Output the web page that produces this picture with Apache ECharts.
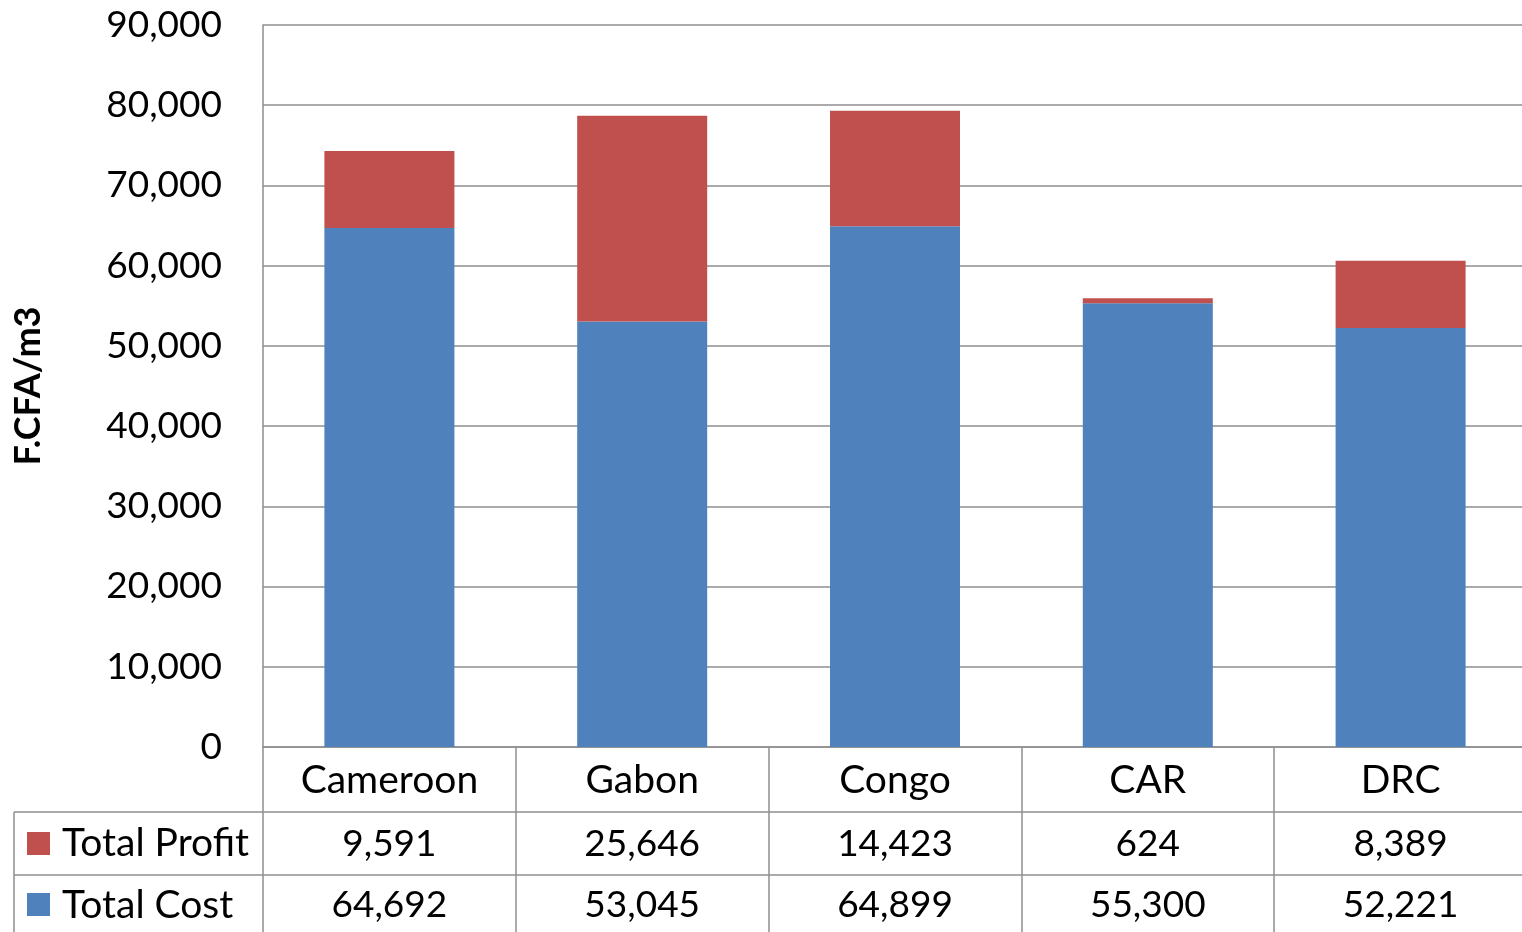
<!DOCTYPE html>
<html>
<head>
<meta charset="utf-8">
<script src="https://cdn.jsdelivr.net/npm/echarts@6/dist/echarts.min.js"></script>
<style>
html,body{margin:0;padding:0;background:#fff;}
#chart{width:1522px;height:932px;}
</style>
</head>
<body>
<div id="chart"></div>
<script>
const categories = ['Cameroon', 'Gabon', 'Congo', 'CAR', 'DRC'];
const totalCost = [64692, 53045, 64899, 55300, 52221];
const totalProfit = [9591, 25646, 14423, 624, 8389];
const seriesNames = ['Total Profit', 'Total Cost'];
const yTicks = { min: 0, max: 90000, interval: 10000 };
const yAxisName = 'F.CFA/m3';

const FONT = 'Lato';
const GRAY = '#8e8e8e';
const RED = '#C0504D';
const BLUE = '#4F81BD';
const fmt = v => v.toLocaleString('en-US');

const chart = echarts.init(document.getElementById('chart'), null, { renderer: 'canvas' });

const gridLeft = 263, gridTop = 25, gridBottom = 185;
const axisY = 932 - gridBottom; // 747
const row1 = 812, row2 = 875;

const option = {
  animation: false,
  backgroundColor: '#fff',
  grid: { left: gridLeft, right: -5, top: gridTop, bottom: gridBottom, containLabel: false, outerBoundsMode: 'none' },
  yAxis: {
    type: 'value',
    min: yTicks.min, max: yTicks.max, interval: yTicks.interval,
    axisLine: { show: true, lineStyle: { color: GRAY, width: 1.5 } },
    axisTick: { show: false },
    axisLabel: { color: '#000', fontFamily: FONT, fontSize: 37, margin: 41, formatter: v => fmt(v) },
    splitLine: { show: true, lineStyle: { color: GRAY, width: 1.5 } },
    name: yAxisName,
    nameLocation: 'middle',
    nameGap: 217,
    nameRotate: 90,
    nameTextStyle: { color: '#000', fontFamily: FONT, fontSize: 36, fontWeight: 'bold' }
  },
  xAxis: [
    {
      type: 'category',
      data: categories,
      position: 'bottom',
      axisLine: { show: true, lineStyle: { color: GRAY, width: 1.5 } },
      axisTick: { show: true, length: 190, interval: 0, lineStyle: { color: GRAY, width: 1.5 } },
      axisLabel: { color: '#000', fontFamily: FONT, fontSize: 39, margin: 14, interval: 0 }
    },
    {
      type: 'category',
      data: categories,
      position: 'bottom',
      offset: row1 - axisY,
      axisLine: { show: false }, axisTick: { show: false },
      axisLabel: { color: '#000', fontFamily: FONT, fontSize: 37, margin: 14, interval: 0,
        formatter: (v, i) => fmt(totalProfit[i]) }
    },
    {
      type: 'category',
      data: categories,
      position: 'bottom',
      offset: row2 - axisY,
      axisLine: { show: false }, axisTick: { show: false },
      axisLabel: { color: '#000', fontFamily: FONT, fontSize: 37, margin: 12, interval: 0,
        formatter: (v, i) => fmt(totalCost[i]) }
    }
  ],
  series: [
    {
      name: seriesNames[1], type: 'bar', stack: 'total', xAxisIndex: 0,
      data: totalCost, barWidth: 130,
      itemStyle: { color: BLUE }
    },
    {
      name: seriesNames[0], type: 'bar', stack: 'total', xAxisIndex: 0,
      data: totalProfit, barWidth: 130,
      itemStyle: { color: RED }
    }
  ],
  graphic: [
    { type: 'line', shape: { x1: 14, y1: row1, x2: 1522, y2: row1 }, style: { stroke: GRAY, lineWidth: 1.5 }, z: 10 },
    { type: 'line', shape: { x1: 14, y1: row2, x2: 1522, y2: row2 }, style: { stroke: GRAY, lineWidth: 1.5 }, z: 10 },
    { type: 'line', shape: { x1: 14, y1: row1, x2: 14, y2: 932 }, style: { stroke: GRAY, lineWidth: 1.5 }, z: 10 },
    { type: 'rect', shape: { x: 27, y: 832, width: 23, height: 23 }, style: { fill: RED }, z: 10 },
    { type: 'text', x: 62, y: 843, style: { text: seriesNames[0], fill: '#000', font: '39px Lato', verticalAlign: 'middle' }, z: 10 },
    { type: 'rect', shape: { x: 27, y: 893, width: 23, height: 23 }, style: { fill: BLUE }, z: 10 },
    { type: 'text', x: 62, y: 905, style: { text: seriesNames[1], fill: '#000', font: '39px Lato', verticalAlign: 'middle' }, z: 10 }
  ]
};
chart.setOption(option);
</script>
</body>
</html>
